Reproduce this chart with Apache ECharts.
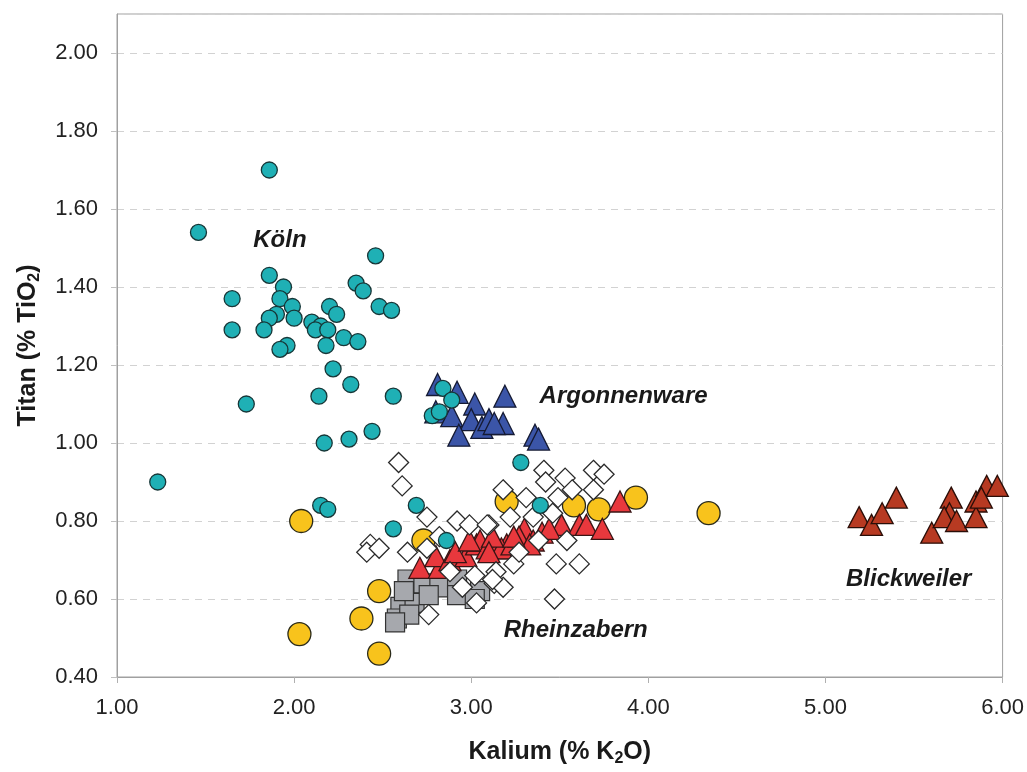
<!DOCTYPE html>
<html>
<head>
<meta charset="utf-8">
<script src="https://cdn.jsdelivr.net/npm/echarts@6/dist/echarts.min.js"></script>
<style>
html,body{margin:0;padding:0;background:#fff;overflow:hidden;}
#chart{width:1027px;height:772px;}
</style>
</head>
<body>
<div id="chart"></div>
<script>
// ---- Data (x = K2O %, y = TiO2 %) ----
const kolnX = [1.86,1.46,2.46,1.86,1.94,2.35,2.39,1.65,1.92,1.99,1.90,2.00,1.86,2.20,2.24,2.48,2.55,1.83,1.65,2.10,2.15,2.12,2.19,1.96,1.92,2.18,2.28,2.36,2.22,2.32,1.73,2.14,2.56,2.17,2.31,2.44,1.23,3.28,2.15,2.19,2.69,2.56,2.86,3.39,2.84,2.89,2.78,2.82];
const kolnY = [1.70,1.54,1.48,1.43,1.40,1.41,1.39,1.37,1.37,1.35,1.33,1.32,1.32,1.35,1.33,1.35,1.34,1.29,1.29,1.31,1.30,1.29,1.29,1.25,1.24,1.25,1.27,1.26,1.19,1.15,1.10,1.12,1.12,1.00,1.01,1.03,0.90,0.95,0.84,0.83,0.84,0.78,0.75,0.84,1.14,1.11,1.07,1.08];

const argonX = [2.81,2.92,2.80,2.89,3.02,3.00,2.93,3.06,3.10,3.19,3.18,3.13,3.36,3.38];
const argonY = [1.15,1.13,1.08,1.07,1.10,1.06,1.02,1.04,1.06,1.12,1.05,1.05,1.02,1.01];

const blickX = [5.19,5.26,5.32,5.40,5.60,5.71,5.70,5.67,5.74,5.85,5.85,5.91,5.97,5.88];
const blickY = [0.81,0.79,0.82,0.86,0.77,0.86,0.82,0.81,0.80,0.85,0.81,0.89,0.89,0.86];

const yellowX = [2.04,2.03,2.38,2.48,2.48,2.73,3.20,3.58,3.72,3.93,4.34];
const yellowY = [0.80,0.51,0.55,0.62,0.46,0.75,0.85,0.84,0.83,0.86,0.82];

const grayX = [2.64,2.73,2.82,2.92,2.92,2.60,2.68,3.05,2.58,2.65,2.57,2.76,2.62,3.02];
const grayY = [0.65,0.64,0.63,0.65,0.61,0.58,0.59,0.62,0.55,0.56,0.54,0.61,0.62,0.60];

const redX = [2.71,2.82,2.80,2.88,2.97,3.03,3.05,3.09,3.15,3.20,3.17,3.23,3.30,3.35,3.40,3.51,3.61,3.65,3.74,3.84,2.91,2.99,3.12,3.27,3.44,3.33,3.24,3.10];
const redY = [0.68,0.68,0.71,0.70,0.71,0.74,0.75,0.73,0.73,0.74,0.73,0.74,0.78,0.75,0.77,0.79,0.79,0.79,0.78,0.85,0.72,0.75,0.76,0.76,0.78,0.74,0.76,0.72];

const diamondX = [2.59,2.61,2.75,2.43,2.41,2.48,2.64,2.76,2.92,2.99,3.10,3.18,3.03,3.13,3.02,3.14,3.18,2.75,3.41,3.69,3.75,3.42,3.53,3.57,3.69,3.31,3.49,3.35,3.22,3.46,3.54,3.48,3.61,3.24,3.47,3.12,3.09,3.27,3.38,2.88,2.95,2.82];
const diamondY = [0.95,0.89,0.81,0.74,0.72,0.73,0.72,0.56,0.80,0.79,0.79,0.88,0.59,0.64,0.66,0.67,0.63,0.73,0.93,0.93,0.92,0.90,0.91,0.88,0.88,0.86,0.86,0.81,0.81,0.82,0.75,0.69,0.69,0.69,0.60,0.65,0.79,0.72,0.75,0.67,0.63,0.76];

const groupNames = ['Köln','Argonnenware','Rheinzabern','Blickweiler'];
const groupLabelX = [1.92,3.86,3.59,5.47];
const groupLabelY = [1.52,1.12,0.52,0.65];

const xTicks = [1,2,3,4,5,6];
const yTicks = [0.4,0.6,0.8,1.0,1.2,1.4,1.6,1.8,2.0];

function zip(xs, ys){ return xs.map((x,i)=>[x, ys[i]]); }

const FONT = 'Liberation Sans, Arial, sans-serif';
const chart = echarts.init(document.getElementById('chart'), null, {renderer:'canvas'});

const nameRich = {
  b: { fontFamily: FONT, fontSize: 25, fontWeight: 'bold', color: '#1a1a1a', lineHeight: 30 },
  s: { fontFamily: FONT, fontSize: 16, fontWeight: 'bold', color: '#1a1a1a', lineHeight: 30, verticalAlign: 'bottom', padding: [13,0,0,0] }
};

const option = {
  backgroundColor: '#ffffff',
  animation: false,
  grid: { left: 117, right: 23, top: 14, bottom: 79, show: true, borderColor: '#a0a0a0', borderWidth: 1 },
  xAxis: {
    type: 'value', min: xTicks[0], max: xTicks[xTicks.length-1], interval: 1,
    name: '{b|Kalium (% K}{s|2}{b|O)}',
    nameLocation: 'middle', nameGap: 60,
    nameTextStyle: { rich: nameRich },
    axisLine: { show: true, lineStyle: { color: '#a0a0a0', width: 1 } },
    axisTick: { show: true, inside: false, length: 6, lineStyle: { color: '#b0b0b0' } },
    axisLabel: { margin: 20, fontFamily: FONT, fontSize: 22, color: '#222', formatter: v => v.toFixed(2) },
    splitLine: { show: false }
  },
  yAxis: {
    type: 'value', min: yTicks[0], max: 2.1, interval: 0.2,
    name: '{b|Titan (% TiO}{s|2}{b|)}',
    nameLocation: 'middle', nameGap: 74, nameRotate: 90,
    nameTextStyle: { rich: nameRich },
    axisLine: { show: true, lineStyle: { color: '#a0a0a0', width: 1 } },
    axisTick: { show: true, length: 6, lineStyle: { color: '#c0c0c0' } },
    axisLabel: {
      margin: 19, fontFamily: FONT, fontSize: 22, color: '#222', showMaxLabel: false,
      formatter: v => (v > 2.05 ? '' : v.toFixed(2))
    },
    splitLine: { show: true, lineStyle: { color: '#d2d2d2', type: [7,6], width: 1 } }
  },
  series: [
    { type: 'scatter', name: 'gray', z: 2, symbol: 'rect', symbolSize: 19,
      itemStyle: { color: '#a6a8ad', borderColor: '#333', borderWidth: 1.2, opacity: 1 }, data: zip(grayX, grayY) },
    { type: 'scatter', name: 'yellow', z: 3, symbol: 'circle', symbolSize: 23,
      itemStyle: { color: '#f8c31c', borderColor: '#2a2a1a', borderWidth: 1.3, opacity: 1 }, data: zip(yellowX, yellowY) },
    { type: 'scatter', name: 'red', z: 4, symbol: 'triangle', symbolSize: [22,21],
      itemStyle: { color: '#e8383d', borderColor: '#3a1515', borderWidth: 1.3, opacity: 1 }, data: zip(redX, redY) },
    { type: 'scatter', name: 'diamond', z: 5, symbol: 'diamond', symbolSize: 20,
      itemStyle: { color: '#ffffff', borderColor: '#2a2a2a', borderWidth: 1.3, opacity: 1 }, data: zip(diamondX, diamondY) },
    { type: 'scatter', name: 'argon', z: 6, symbol: 'triangle', symbolSize: [22,22],
      itemStyle: { color: '#3b55a8', borderColor: '#151a33', borderWidth: 1.3, opacity: 1 }, data: zip(argonX, argonY) },
    { type: 'scatter', name: 'blick', z: 6, symbol: 'triangle', symbolSize: [22,21],
      itemStyle: { color: '#b73a22', borderColor: '#2a0e08', borderWidth: 1.3, opacity: 1 }, data: zip(blickX, blickY) },
    { type: 'scatter', name: 'koln', z: 7, symbol: 'circle', symbolSize: 16,
      itemStyle: { color: '#1fb0b5', borderColor: '#173637', borderWidth: 1.3, opacity: 1 }, data: zip(kolnX, kolnY) },
    { type: 'scatter', name: 'labels', z: 8, symbol: 'circle', symbolSize: 1, silent: true,
      itemStyle: { color: 'rgba(0,0,0,0)', opacity: 1 },
      label: { show: true, position: 'inside', formatter: p => p.name,
        fontFamily: FONT, fontSize: 24, fontWeight: 'bold', fontStyle: 'italic', color: '#1a1a1a' },
      data: groupNames.map((n,i)=>({ name: n, value: [groupLabelX[i], groupLabelY[i]] })) }
  ]
};
chart.setOption(option);
</script>
</body>
</html>
